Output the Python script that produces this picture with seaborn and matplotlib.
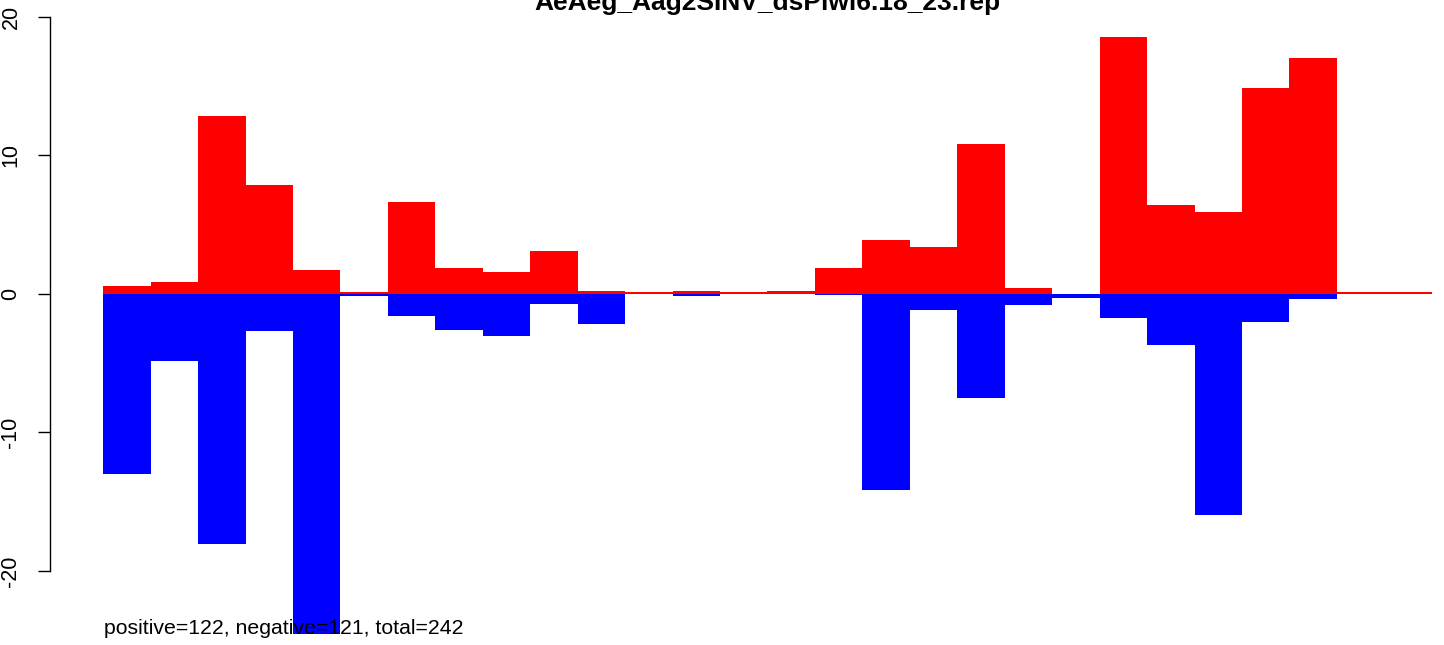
import numpy as np
import pandas as pd
import matplotlib
matplotlib.use("Agg")
import matplotlib.pyplot as plt
import seaborn as sns

# values (28 bins)
bins = list(range(28))
positive = [0.6, 0.85, 12.85, 7.9, 1.7, 0.15, 6.65, 1.9, 1.6, 3.1,
            0.2, 0.13, 0.2, 0.12, 0.2, 1.9, 3.9, 3.4, 10.85, 0.45,
            0.0, 18.55, 6.45, 5.95, 14.9, 17.05, 0.13, 0.13]
negative = [-13.0, -4.85, -18.05, -2.65, -24.6, -0.12, -1.6, -2.6, -3.05, -0.75,
            -2.15, 0.0, -0.15, 0.0, 0.0, -0.08, -14.15, -1.15, -7.5, -0.8,
            -0.3, -1.7, -3.65, -15.95, -2.0, -0.35, 0.0, 0.0]
yticks = [-20, -10, 0, 10, 20]
title = "AeAeg_Aag2SINV_dsPiwi6.18_23.rep"
footer = "positive=122, negative=121, total=242"

sns.set_style("white")
plt.rcParams["font.family"] = ["Liberation Sans", "DejaVu Sans"]
plt.rcParams["text.color"] = "black"
plt.rcParams["ytick.color"] = "black"

W, H = 1444, 645
fig = plt.figure(figsize=(W / 100, H / 100), dpi=100)
# plot region runs past the right edge, as in the original
ax = fig.add_axes([50 / W, 11 / H, (1485 - 50) / W, (634 - 17) / H])

df = pd.DataFrame({"bin": bins, "pos": positive, "neg": negative})
sns.barplot(data=df, x="bin", y="pos", color="#ff0000", width=1,
            linewidth=0, saturation=1, errorbar=None, ax=ax)
sns.barplot(data=df, x="bin", y="neg", color="#0000ff", width=1,
            linewidth=0, saturation=1, errorbar=None, ax=ax)

ax.set_xlim(-1.62, 28.62)
ax.set_ylim(-24.55, 20)
ax.set_xlabel("")
ax.set_ylabel("")
ax.set_xticks([])
ax.set_yticks(yticks)
ax.set_yticklabels([str(t) for t in yticks], rotation=90, va="center",
                   fontsize=15.5, color="black")
ax.tick_params(axis="y", direction="out", length=8.6, width=1, pad=12,
               left=True, colors="black")

for s in ["top", "right", "bottom"]:
    ax.spines[s].set_visible(False)
ax.spines["left"].set_bounds(-20, 20)
ax.spines["left"].set_linewidth(1)
ax.spines["left"].set_color("black")

ax.set_title(title, fontsize=19, fontweight="bold", pad=5, color="black")
fig.text(104 / W, (H - 634) / H, footer, fontsize=15.3, va="baseline",
         ha="left", color="black")

fig.savefig("out.png", dpi=100)
